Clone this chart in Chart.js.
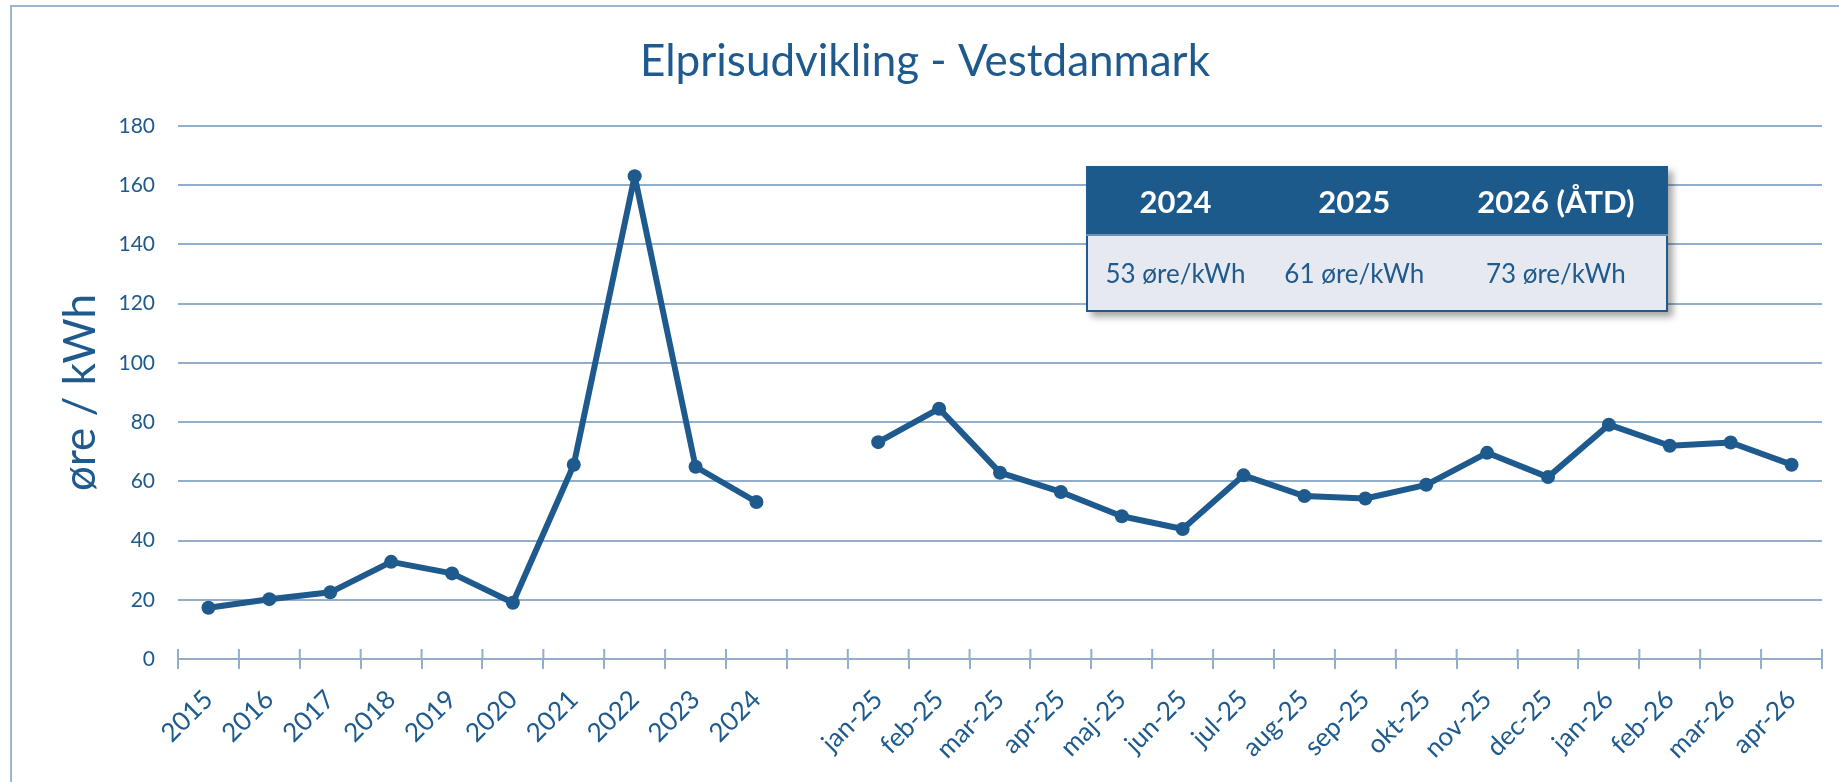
<!DOCTYPE html>
<html>
<head>
<meta charset="utf-8">
<script src="https://cdn.jsdelivr.net/npm/chart.js@4.4.0/dist/chart.umd.min.js"></script>
<style>
  html, body { margin: 0; padding: 0; background: #fff; overflow: hidden; }
  #frame {
    position: absolute; left: 10px; top: 5px; width: 2000px; height: 2000px;
    border: 2px solid #9db6cf; box-sizing: border-box;
  }
  #chart { position: absolute; left: 0; top: 0; }
  #summary {
    position: absolute; left: 1086px; top: 166px; width: 582px;
    border-collapse: collapse; border: 2px solid #1f5a8e;
    box-shadow: 5px 5px 7px rgba(0, 0, 0, 0.35);
    font-family: Lato, "Open Sans", sans-serif; color: #1f5a8e;
  }
  #summary th {
    background: #1d5a8c; color: #fff; font-size: 31px; font-weight: bold;
    height: 66px; padding: 0; text-align: center;
  }
  #summary td {
    background: #e6e9ef; font-size: 26px; height: 74px; padding: 0; text-align: center;
    border-top: 2px solid #6f8fb3;
  }
</style>
</head>
<body>
<div id="frame"></div>
<canvas id="chart" width="1839" height="782"></canvas>
<table id="summary">
  <thead><tr id="summaryHead"></tr></thead>
  <tbody><tr id="summaryBody"></tr></tbody>
</table>
<script>
// --- Data ---

// yearly averages, then an empty slot, then monthly values
const yearLabels = ["2015", "2016", "2017", "2018", "2019", "2020", "2021", "2022", "2023", "2024"];
const yearPrices = [17.3, 20.2, 22.5, 32.8, 28.9, 19.0, 65.6, 163.0, 64.9, 53.0];

const monthLabels = ["jan-25", "feb-25", "mar-25", "apr-25", "maj-25", "jun-25", "jul-25", "aug-25",
  "sep-25", "okt-25", "nov-25", "dec-25", "jan-26", "feb-26", "mar-26", "apr-26"];
const monthPrices = [73.2, 84.5, 62.9, 56.4, 48.2, 43.9, 62.0, 55.0, 54.2, 58.8, 69.6, 61.4, 79.1, 72.0, 73.1, 65.6];

const yTicks = [0, 20, 40, 60, 80, 100, 120, 140, 160, 180];

// summary box
const tableYears = ["2024", "2025", "2026 (ÅTD)"];
const tableValues = ["53 øre/kWh", "61 øre/kWh", "73 øre/kWh"];
const tableWidths = [176, 184, 222];

const blue = "#1f5a8e";
const gridBlue = "#93aecb";

// --- Summary table ---

const headRow = document.getElementById("summaryHead");
const bodyRow = document.getElementById("summaryBody");
tableYears.forEach((y, i) => {
  const th = document.createElement("th");
  th.textContent = y;
  th.style.width = tableWidths[i] + "px";
  headRow.appendChild(th);
  const td = document.createElement("td");
  td.textContent = tableValues[i];
  bodyRow.appendChild(td);
});

// --- Chart ---

const labels = [...yearLabels, "", ...monthLabels];
const values = [...yearPrices, null, ...monthPrices];

// small tick marks that cross the x axis (upper half; lower half is the grid tick)
const crossTicks = {
  id: "crossTicks",
  beforeDatasetsDraw(chart) {
    const x = chart.scales.x;
    const y0 = chart.scales.y.getPixelForValue(0);
    const n = labels.length;
    const ctx = chart.ctx;
    ctx.save();
    ctx.strokeStyle = gridBlue;
    ctx.lineWidth = 2;
    ctx.beginPath();
    for (let i = 0; i <= n; i++) {
      const px = x.left + (x.width * i) / n;
      ctx.moveTo(px, y0 - 10);
      ctx.lineTo(px, y0);
    }
    ctx.stroke();
    ctx.restore();
  },
};

new Chart(document.getElementById("chart"), {
  type: "line",
  data: {
    labels: labels,
    datasets: [
      {
        data: values,
        borderColor: blue,
        backgroundColor: blue,
        borderWidth: 6,
        borderJoinStyle: "round",
        pointRadius: 7,
        pointBorderWidth: 0,
        tension: 0,
        spanGaps: false,
      },
    ],
  },
  options: {
    responsive: false,
    animation: false,
    layout: { padding: { left: 28, right: 17, top: 0, bottom: 0 } },
    plugins: {
      legend: { display: false },
      tooltip: { enabled: false },
      title: {
        display: true,
        text: "Elprisudvikling - Vestdanmark",
        color: blue,
        font: { family: "Lato", size: 44, weight: "normal" },
        padding: { top: 35, bottom: 38 },
      },
    },
    scales: {
      x: {
        offset: true,
        grid: {
          offset: true,
          drawOnChartArea: false,
          drawTicks: true,
          tickLength: 10,
          color: gridBlue,
          lineWidth: 2,
        },
        border: { display: false },
        ticks: {
          autoSkip: false,
          maxRotation: 45,
          minRotation: 45,
          padding: 15,
          color: blue,
          font: { family: "Lato", size: 26, weight: "normal" },
        },
        afterFit(scale) {
          scale.height = 123;
        },
      },
      y: {
        min: 0,
        max: 180,
        afterBuildTicks(scale) {
          scale.ticks = yTicks.map((v) => ({ value: v }));
        },
        grid: { color: gridBlue, lineWidth: 2, drawTicks: false },
        border: { display: false },
        ticks: {
          padding: 23,
          color: blue,
          font: { family: "Lato", size: 21 },
        },
        title: {
          display: true,
          text: "øre / kWh",
          color: blue,
          font: { family: "Lato", size: 44 },
          padding: { top: 26, bottom: 0 },
        },
        afterFit(scale) {
          scale.width = 150;
        },
      },
    },
  },
  plugins: [crossTicks],
});
</script>
</body>
</html>
